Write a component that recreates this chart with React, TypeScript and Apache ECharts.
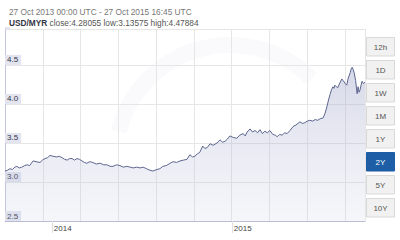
import React, { useEffect, useRef } from "react";
import * as echarts from "echarts";

// Days since 27 Oct 2013 and USD/MYR rate
const days = [0, 5, 10, 15, 20, 24, 29, 34, 40, 45, 50, 57, 63, 71, 76, 81, 86, 91, 97, 105, 110, 116, 121, 126, 131, 136, 141, 146, 151, 156, 161, 166, 172, 178, 185, 193, 200, 207, 213, 219, 226, 233, 240, 247, 254, 260, 267, 274, 280, 287, 294, 300, 308, 314, 320, 327, 335, 341, 348, 355, 362, 369, 375, 380, 385, 390, 395, 401, 405, 410, 416, 422, 430, 436, 441, 446, 451, 456, 463, 470, 476, 483, 487, 491, 497, 502, 507, 512, 517, 522, 527, 532, 537, 543, 548, 552, 557, 562, 567, 572, 578, 584, 590, 598, 603, 608, 613, 618, 624, 629, 634, 639, 645, 649, 653, 656, 659, 662, 665, 667, 669, 672, 675, 679, 683, 685, 687, 690, 693, 696, 700, 702, 704, 706, 708, 711, 714, 716, 718, 720, 722, 724, 727, 730];
const rates = [3.14, 3.15, 3.17, 3.16, 3.19, 3.2, 3.18, 3.19, 3.21, 3.22, 3.21, 3.27, 3.26, 3.25, 3.28, 3.3, 3.31, 3.34, 3.33, 3.32, 3.33, 3.31, 3.29, 3.28, 3.3, 3.3, 3.28, 3.3, 3.29, 3.27, 3.25, 3.24, 3.26, 3.25, 3.23, 3.24, 3.22, 3.22, 3.2, 3.2, 3.22, 3.21, 3.19, 3.2, 3.19, 3.18, 3.19, 3.18, 3.19, 3.17, 3.15, 3.14, 3.16, 3.17, 3.2, 3.21, 3.24, 3.26, 3.25, 3.27, 3.28, 3.29, 3.35, 3.32, 3.33, 3.36, 3.38, 3.46, 3.43, 3.44, 3.49, 3.47, 3.5, 3.54, 3.51, 3.52, 3.55, 3.59, 3.57, 3.56, 3.6, 3.62, 3.59, 3.64, 3.68, 3.64, 3.66, 3.63, 3.67, 3.62, 3.65, 3.63, 3.66, 3.61, 3.6, 3.58, 3.61, 3.6, 3.63, 3.62, 3.66, 3.71, 3.73, 3.77, 3.75, 3.76, 3.78, 3.79, 3.78, 3.8, 3.79, 3.81, 3.82, 3.88, 3.97, 4.05, 4.12, 4.18, 4.22, 4.2, 4.24, 4.22, 4.21, 4.27, 4.32, 4.3, 4.29, 4.26, 4.24, 4.33, 4.4, 4.45, 4.47, 4.44, 4.4, 4.3, 4.13, 4.22, 4.15, 4.18, 4.24, 4.29, 4.26, 4.28];

const yearTickDays = [95, 460];
const yearLabels = ["2014", "2015"];
const rangeButtons = ["12h", "1D", "1W", "1M", "1Y", "2Y", "5Y", "10Y"];
const selectedRange = "2Y";
const titleLine = "27 Oct 2013 00:00 UTC - 27 Oct 2015 16:45 UTC";
const pairName = "USD/MYR";
const closeValue = "4.28055";
const lowValue = "3.13575";
const highValue = "4.47884";

const FONT = "Liberation Sans, Arial, sans-serif";

export default function App() {
  const ref = useRef<HTMLDivElement>(null);
  useEffect(() => {
    if (!ref.current) return;
    const chart = echarts.init(ref.current, null, { renderer: "svg" });
    const data = days.map((d, i) => [d, rates[i]]);
    const graphics: any[] = [
      {
        type: "arc",
        shape: { cx: 230, cy: 160, r: 115, startAngle: Math.PI * 1.08, endAngle: Math.PI * 1.75 },
        style: { stroke: "rgba(215,218,230,0.13)", lineWidth: 16, fill: null },
        silent: true,
        z: -1,
      },
    ];
    rangeButtons.forEach((b, i) => {
      const sel = b === selectedRange;
      const y = 37 + i * 23;
      graphics.push({
        type: "rect",
        shape: { x: 366.5, y: y + 0.5, width: 28, height: 18.5 },
        style: { fill: sel ? "#1d5ea6" : "#f1f1f1", stroke: sel ? "#1d5ea6" : "#d9d9d9", lineWidth: 1 },
        z: 10,
      });
      graphics.push({
        type: "text",
        style: {
          text: b,
          x: 380.5,
          y: y + 10,
          textAlign: "center",
          textVerticalAlign: "middle",
          fill: sel ? "#ffffff" : "#555555",
          fontSize: 8,
          fontFamily: FONT,
        },
        z: 11,
      });
    });
    chart.setOption({
      animation: false,
      backgroundColor: "#ffffff",
      title: [
        {
          text: titleLine,
          left: 4,
          top: 3,
          textStyle: { fontSize: 8.3, color: "#777777", fontWeight: "normal", fontFamily: FONT },
        },
        {
          text: `{a|${pairName}} close:${closeValue} low:${lowValue} high:${highValue}`,
          left: 4,
          top: 14,
          textStyle: {
            fontSize: 8.3,
            color: "#555555",
            fontWeight: "normal",
            fontFamily: FONT,
            rich: { a: { fontSize: 8.3, color: "#333344", fontWeight: "bold", fontFamily: FONT } },
          },
        },
      ],
      grid: { left: 5, top: 29, width: 360, height: 192, containLabel: false },
      xAxis: [
        {
          type: "value",
          min: 0,
          max: 730,
          interval: 76.6,
          axisLine: { show: true, lineStyle: { color: "#b9bdd3", width: 1 } },
          axisTick: { show: false },
          axisLabel: { show: false },
          splitLine: { show: true, lineStyle: { color: "#e6e6e6", width: 1 } },
        },
        {
          type: "value",
          min: 0,
          max: 730,
          position: "bottom",
          axisLine: { show: false },
          axisTick: {
            show: true,
            length: 12,
            customValues: yearTickDays,
            lineStyle: { color: "#e0e0e0" },
          },
          axisLabel: {
            show: true,
            customValues: yearTickDays,
            formatter: (v: number) => yearLabels[yearTickDays.indexOf(Math.round(v))] ?? "",
            color: "#444444",
            fontSize: 8,
            fontFamily: FONT,
            align: "left",
            margin: 3,
            padding: [0, 0, 0, 2],
          },
          splitLine: { show: false },
        },
      ],
      yAxis: {
        type: "value",
        min: 2.5,
        max: 4.96,
        interval: 0.5,
        axisLine: { show: true, lineStyle: { color: "#c3c6dc", width: 1 } },
        axisTick: { show: false },
        splitLine: { show: true, lineStyle: { color: "#e6e6e6", width: 1 } },
        axisLabel: {
          inside: true,
          margin: 0,
          verticalAlign: "bottom",
          align: "left",
          fontSize: 8,
          color: "#333344",
          fontFamily: FONT,
          backgroundColor: "#e2e4ef",
          padding: [1, 3, 1, 2],
          formatter: (v: number) => (Math.abs(v * 2 - Math.round(v * 2)) < 1e-6 ? v.toFixed(1) : ""),
        },
      },
      series: [
        {
          type: "line",
          data,
          xAxisIndex: 0,
          showSymbol: false,
          symbol: "none",
          lineStyle: { color: "#5d668f", width: 1 },
          areaStyle: {
            color: new echarts.graphic.LinearGradient(0, 0, 0, 1, [
              { offset: 0, color: "rgba(150,156,195,0.55)" },
              { offset: 1, color: "rgba(200,205,228,0.25)" },
            ]),
          },
        },
      ],
      graphic: graphics,
    });
    return () => chart.dispose();
  }, []);
  return <div ref={ref} style={{ position: "fixed", left: 0, top: 0, width: 400, height: 240 }} />;
}
